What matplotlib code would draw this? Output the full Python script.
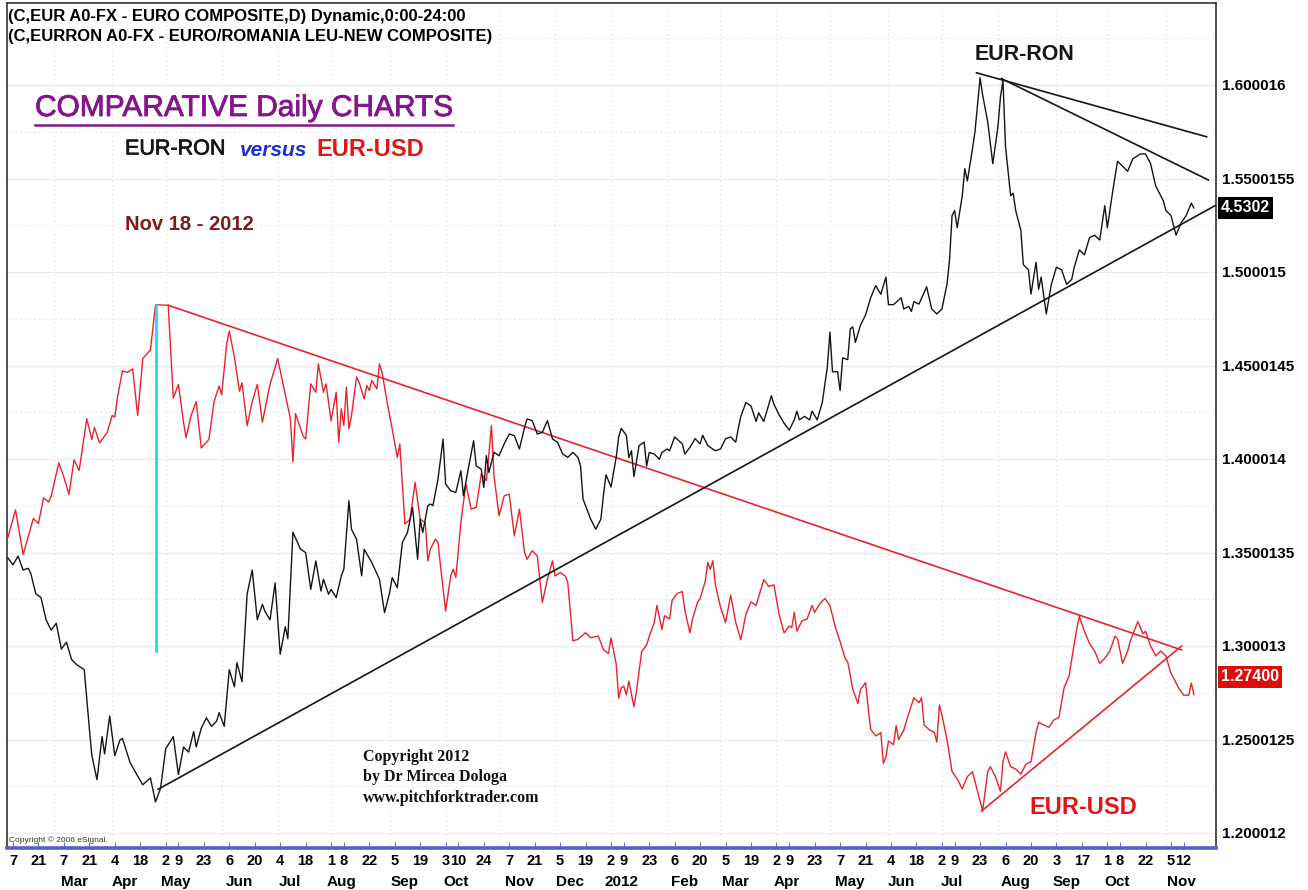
import matplotlib
matplotlib.use("Agg")
import matplotlib.pyplot as plt
import matplotlib.patheffects as pe
from matplotlib import font_manager
from matplotlib.lines import Line2D
from matplotlib.transforms import blended_transform_factory
import pandas as pd

# bars are trading days counted from the first bar on the chart
first_bar = "2011-02-03"

# EUR-USD closes (red)
usd_day = [0, 3, 6, 10, 12, 14, 16, 17, 20, 22,
           24, 26, 28, 31, 33, 34, 36, 39, 41, 42,
           43, 45, 47, 49, 51, 53, 56, 58, 63, 65,
           67, 69, 70, 72, 74, 76, 79, 81, 83, 84,
           86, 87, 89, 91, 92, 94, 96, 98, 100, 103,
           106, 109, 111, 112, 113, 116, 117, 119, 121, 122,
           124, 125, 127, 129, 130, 131, 132, 133, 134, 135,
           137, 138, 140, 141, 142, 143, 145, 146, 147, 149,
           151, 153, 154, 156, 158, 160, 162, 164, 165, 166,
           168, 169, 170, 172, 174, 175, 176, 178, 179, 180,
           182, 184, 186, 188, 189, 190, 191, 193, 195, 197,
           199, 201, 203, 204, 206, 208, 210, 212, 214, 215,
           217, 219, 220, 222, 224, 227, 229, 232, 234, 236,
           237, 239, 240, 241, 242, 243, 244, 246, 247, 249,
           251, 252, 254, 255, 257, 258, 260, 261, 263, 265,
           266, 268, 269, 271, 272, 274, 275, 276, 277, 278,
           280, 282, 284, 286, 288, 290, 292, 294, 297, 299,
           301, 303, 305, 307, 308, 309, 310, 312, 314, 316,
           317, 319, 321, 323, 325, 327, 329, 330, 332, 334,
           335, 337, 338, 339, 341, 343, 344, 345, 346, 348,
           349, 350, 352, 354, 356, 358, 359, 360, 362, 364,
           365, 366, 367, 369, 371, 373, 375, 377, 379, 381,
           383, 384, 385, 386, 388, 390, 391, 392, 394, 396,
           398, 400, 402, 404, 405, 407, 409, 411, 413, 415,
           417, 419, 420, 421, 423, 425, 427, 429, 431, 433,
           435, 436, 438, 440, 441, 444, 446, 447, 449, 451,
           453, 455, 457, 458, 460, 462, 464, 465, 466]
usd_close = [1.3581, 1.3728, 1.3489, 1.3682, 1.3655, 1.3792, 1.3770, 1.3800, 1.3980, 1.3903,
             1.3811, 1.3995, 1.3939, 1.4215, 1.4105, 1.4169, 1.4086, 1.4142, 1.4233, 1.4224,
             1.4325, 1.4472, 1.4463, 1.4482, 1.4233, 1.4537, 1.4583, 1.4825, 1.4822, 1.4325,
             1.4399, 1.4197, 1.4114, 1.4233, 1.4307, 1.4059, 1.4105, 1.4307, 1.4390, 1.4344,
             1.4619, 1.4684, 1.4546, 1.4362, 1.4408, 1.4178, 1.4307, 1.4399, 1.4197, 1.4399,
             1.4537, 1.4344, 1.4215, 1.3985, 1.4243, 1.4123, 1.4107, 1.4402, 1.4357, 1.4509,
             1.4357, 1.4402, 1.4205, 1.4357, 1.4089, 1.4268, 1.4179, 1.4384, 1.4161, 1.4232,
             1.4438, 1.4411, 1.4321, 1.4393, 1.4366, 1.4420, 1.4375, 1.4509, 1.4464, 1.4304,
             1.4161, 1.4009, 1.4080, 1.3652, 1.3678, 1.3875, 1.3678, 1.3660, 1.3455, 1.3518,
             1.3571, 1.3553, 1.3428, 1.3187, 1.3375, 1.3411, 1.3366, 1.3661, 1.3768, 1.3866,
             1.3732, 1.3741, 1.3920, 1.3884, 1.4027, 1.4179, 1.3911, 1.3696, 1.3803, 1.3812,
             1.3589, 1.3732, 1.3500, 1.3464, 1.3509, 1.3482, 1.3232, 1.3357, 1.3455, 1.3375,
             1.3393, 1.3375, 1.3339, 1.3027, 1.3036, 1.3071, 1.3044, 1.3053, 1.2980, 1.2960,
             1.3043, 1.2905, 1.2721, 1.2776, 1.2785, 1.2739, 1.2813, 1.2675, 1.2758, 1.2969,
             1.3006, 1.3052, 1.3125, 1.3217, 1.3088, 1.3162, 1.3144, 1.3245, 1.3281, 1.3291,
             1.3190, 1.3070, 1.3144, 1.3236, 1.3254, 1.3346, 1.3447, 1.3410, 1.3456, 1.3327,
             1.3208, 1.3125, 1.3272, 1.3125, 1.3033, 1.3171, 1.3236, 1.3217, 1.3355, 1.3318,
             1.3327, 1.3171, 1.3070, 1.3107, 1.3098, 1.3180, 1.3079, 1.3134, 1.3144, 1.3217,
             1.3180, 1.3226, 1.3254, 1.3217, 1.3107, 1.3024, 1.2932, 1.2914, 1.2767, 1.2693,
             1.2767, 1.2804, 1.2675, 1.2555, 1.2519, 1.2537, 1.2372, 1.2408, 1.2491, 1.2473,
             1.2574, 1.2500, 1.2550, 1.2640, 1.2723, 1.2697, 1.2723, 1.2578, 1.2552, 1.2539,
             1.2486, 1.2684, 1.2631, 1.2500, 1.2328, 1.2289, 1.2236, 1.2302, 1.2328, 1.2223,
             1.2118, 1.2223, 1.2328, 1.2355, 1.2302, 1.2223, 1.2381, 1.2434, 1.2355, 1.2342,
             1.2315, 1.2368, 1.2381, 1.2539, 1.2592, 1.2578, 1.2565, 1.2605, 1.2618, 1.2776,
             1.2842, 1.3013, 1.3092, 1.3158, 1.3079, 1.3013, 1.2973, 1.2907, 1.2934, 1.2973,
             1.3052, 1.3040, 1.2907, 1.2973, 1.3026, 1.3131, 1.3065, 1.3079, 1.3000, 1.2947,
             1.2973, 1.2947, 1.2855, 1.2829, 1.2776, 1.2737, 1.2737, 1.2802, 1.2740]

# EUR-RON closes (black), own scale
ron_day = [0, 2, 4, 6, 8, 9, 11, 13, 15, 17,
           19, 21, 23, 25, 27, 30, 32, 33, 35, 37,
           38, 40, 42, 44, 45, 48, 51, 53, 56, 58,
           60, 62, 65, 67, 69, 71, 73, 74, 76, 78,
           80, 82, 83, 85, 87, 89, 90, 92, 94, 96,
           98, 100, 101, 103, 105, 107, 109, 110, 112, 115,
           117, 119, 121, 123, 124, 126, 127, 129, 131, 132,
           134, 135, 137, 139, 140, 143, 146, 148, 150, 151,
           153, 155, 157, 159, 161, 162, 163, 165, 166, 167,
           169, 171, 172, 174, 176, 178, 179, 181, 183, 184,
           186, 187, 188, 189, 191, 193, 195, 197, 199, 201,
           203, 204, 206, 208, 210, 212, 214, 216, 218, 220,
           222, 224, 225, 226, 229, 231, 233, 234, 235, 237,
           239, 240, 241, 243, 244, 245, 246, 248, 249, 250,
           251, 252, 254, 256, 257, 259, 260, 262, 265, 266,
           268, 270, 272, 273, 275, 278, 280, 282, 284, 286,
           287, 288, 290, 292, 294, 295, 297, 300, 301, 303,
           305, 307, 309, 310, 311, 313, 315, 316, 318, 320,
           322, 323, 324, 326, 327, 328, 330, 331, 332, 333,
           335, 337, 339, 341, 343, 345, 346, 348, 351, 352,
           354, 355, 356, 358, 361, 363, 365, 367, 369, 370,
           371, 372, 373, 375, 376, 377, 379, 380, 382, 383,
           385, 387, 389, 390, 391, 392, 394, 395, 396, 398,
           399, 401, 402, 404, 405, 406, 408, 410, 412, 414,
           416, 418, 419, 421, 423, 425, 427, 429, 431, 432,
           434, 436, 438, 440, 442, 445, 447, 449, 451, 454,
           455, 457, 459, 461, 463, 465, 466]
ron_close = [4.2589, 4.2536, 4.2603, 4.2496, 4.2509, 4.2469, 4.2310, 4.2283, 4.2110, 4.2030,
             4.2083, 4.1883, 4.1937, 4.1803, 4.1763, 4.1723, 4.1270, 4.1057, 4.0870, 4.1204,
             4.1070, 4.1364, 4.1057, 4.1177, 4.1190, 4.1004, 4.0898, 4.0831, 4.0884, 4.0698,
             4.0804, 4.1110, 4.1204, 4.0910, 4.1124, 4.1084, 4.1244, 4.1124, 4.1270, 4.1350,
             4.1284, 4.1324, 4.1390, 4.1284, 4.1723, 4.1590, 4.1777, 4.1630, 4.2310, 4.2496,
             4.2110, 4.2230, 4.2176, 4.2110, 4.2395, 4.1843, 4.2056, 4.1963, 4.2789, 4.2657,
             4.2631, 4.2346, 4.2566, 4.2333, 4.2424, 4.2308, 4.2346, 4.2282, 4.2450, 4.2502,
             4.3033, 4.2812, 4.2735, 4.2450, 4.2657, 4.2553, 4.2424, 4.2165, 4.2321, 4.2437,
             4.2359, 4.2709, 4.2786, 4.2980, 4.2579, 4.2890, 4.2786, 4.2994, 4.3007, 4.2994,
             4.3200, 4.3511, 4.3162, 4.3110, 4.3097, 4.3265, 4.3071, 4.3291, 4.3498, 4.3304,
             4.3278, 4.3136, 4.3382, 4.3252, 4.3408, 4.3382, 4.3473, 4.3550, 4.3537, 4.3434,
             4.3602, 4.3667, 4.3654, 4.3550, 4.3563, 4.3654, 4.3511, 4.3485, 4.3395, 4.3369,
             4.3408, 4.3369, 4.3304, 4.3045, 4.2890, 4.2812, 4.2890, 4.3074, 4.3234, 4.3140,
             4.3367, 4.3527, 4.3594, 4.3540, 4.3367, 4.3420, 4.3220, 4.3460, 4.3474, 4.3487,
             4.3301, 4.3407, 4.3394, 4.3354, 4.3407, 4.3434, 4.3420, 4.3527, 4.3474, 4.3394,
             4.3447, 4.3514, 4.3474, 4.3540, 4.3460, 4.3420, 4.3434, 4.3514, 4.3527, 4.3487,
             4.3594, 4.3687, 4.3794, 4.3767, 4.3647, 4.3714, 4.3647, 4.3847, 4.3780, 4.3700,
             4.3634, 4.3580, 4.3660, 4.3727, 4.3660, 4.3687, 4.3660, 4.3727, 4.3660, 4.3794,
             4.4073, 4.4340, 4.4033, 4.4033, 4.3887, 4.4140, 4.4127, 4.4366, 4.4380, 4.4260,
             4.4393, 4.4473, 4.4606, 4.4700, 4.4633, 4.4766, 4.4553, 4.4553, 4.4606, 4.4519,
             4.4540, 4.4500, 4.4576, 4.4557, 4.4691, 4.4519, 4.4481, 4.4519, 4.4710, 4.4900,
             4.5244, 4.5282, 4.5149, 4.5397, 4.5606, 4.5511, 4.5759, 4.5893, 4.6312, 4.6179,
             4.5969, 4.5645, 4.5931, 4.6160, 4.6293, 4.5778, 4.5397, 4.5416, 4.5282, 4.5130,
             4.4863, 4.4824, 4.4634, 4.4882, 4.4672, 4.4767, 4.4481, 4.4710, 4.4843, 4.4824,
             4.4710, 4.4748, 4.4843, 4.4977, 4.4939, 4.5072, 4.5091, 4.5053, 4.5320, 4.5149,
             4.5416, 4.5664, 4.5626, 4.5587, 4.5683, 4.5721, 4.5721, 4.5645, 4.5473, 4.5358,
             4.5282, 4.5244, 4.5092, 4.5187, 4.5244, 4.5340, 4.5302]

# trend lines drawn on the chart: (days, values)
ron_support = ([59, 474.7], [4.0796, 4.5324])
ron_upper = ([380.6, 471.0], [4.6350, 4.5854])
ron_lower = ([390.4, 471.7], [4.6305, 4.5519])
usd_down = ([63, 461.2], [1.4822, 1.2979])
usd_up = ([382.6, 461.2], [1.2118, 1.3000])
cyan_mark = ([58, 58], [1.4825, 1.2975])

tick_dates = ["2011-02-07", "2011-02-21", "2011-03-07", "2011-03-21", "2011-04-04",
              "2011-04-18", "2011-05-02", "2011-05-09", "2011-05-23", "2011-06-06",
              "2011-06-20", "2011-07-04", "2011-07-18", "2011-08-01", "2011-08-08",
              "2011-08-22", "2011-09-05", "2011-09-19", "2011-10-03", "2011-10-10",
              "2011-10-24", "2011-11-07", "2011-11-21", "2011-12-05", "2011-12-19",
              "2012-01-02", "2012-01-09", "2012-01-23", "2012-02-06", "2012-02-20",
              "2012-03-05", "2012-03-19", "2012-04-02", "2012-04-09", "2012-04-23",
              "2012-05-07", "2012-05-21", "2012-06-04", "2012-06-18", "2012-07-02",
              "2012-07-09", "2012-07-23", "2012-08-06", "2012-08-20", "2012-09-03",
              "2012-09-17", "2012-10-01", "2012-10-08", "2012-10-22", "2012-11-05",
              "2012-11-12"]
y_ticks = [1.200012, 1.2500125, 1.300013, 1.3500135, 1.400014,
           1.4500145, 1.500015, 1.5500155, 1.600016]
y_labels = ["1.200012", "1.2500125", "1.300013", "1.3500135", "1.400014",
            "1.4500145", "1.500015", "1.5500155", "1.600016"]
usd_last_label = "1.27400"
ron_last_label = "4.5302"

RED = "#e8232b"
BLACK = "#151515"
PURPLE = "#84168c"

SANS = ["Liberation Sans", "DejaVu Sans"]
SERIF = ["Liberation Serif", "DejaVu Serif"]
try:
    font_manager.findfont("Liberation Sans Narrow", fallback_to_default=False)
    NARROW, narrow_size = ["Liberation Sans Narrow", "Liberation Sans"], 12.5
except ValueError:
    NARROW, narrow_size = SANS, 10.5
plt.rcParams["font.family"] = SANS

bdays = pd.bdate_range(first_bar, periods=480)
day_of = {d: i for i, d in enumerate(bdays)}
tick_ts = [pd.Timestamp(s) for s in tick_dates]
tick_days = [day_of[t] for t in tick_ts]

W, H = 1308, 890
fig = plt.figure(figsize=(W / 100, H / 100), dpi=100)


def fx(x):
    return x / W


def fy(y):
    return 1 - y / H


heavy = [pe.withStroke(linewidth=0.6, foreground=PURPLE)]

ax = fig.add_axes([fx(7), 42 / H, 1209 / W, 845 / H])
ax2 = ax.twinx()
ax.set_xlim(-0.35, 474.7)
ax.set_ylim(1.19198, 1.64385)
ax2.set_ylim(4.0341, 4.6891)

# grid
for k in range(18):
    v = 1.2 + 0.025 * k
    if k % 2 == 0:
        ax.axhline(v, color="#ebebeb", lw=0.9, zorder=0)
    else:
        ax.axhline(v, color="#dcdcdc", lw=0.8, ls=(0, (1, 3)), zorder=0)
month_starts = [i for i in range(1, 470) if bdays[i].month != bdays[i - 1].month]
for i in month_starts:
    ax.axvline(i, color="#dcdcdc", lw=0.8, ls=(0, (1, 3)), zorder=0)

# series
ax.plot(usd_day, usd_close, color=RED, lw=1.0, zorder=3)
ax2.plot(ron_day, ron_close, color=BLACK, lw=1.0, zorder=3)

# trend lines
ax.plot(*usd_down, color=RED, lw=1.2, zorder=4)
ax.plot(*usd_up, color=RED, lw=1.2, zorder=4)
ax.plot(*cyan_mark, color="#22d6e6", lw=1.9, zorder=4)
for line in (ron_support, ron_upper, ron_lower):
    ax2.plot(*line, color=BLACK, lw=1.2, zorder=4)

# axes frame
for side in ("left", "top", "right"):
    ax.spines[side].set_color("#222222")
    ax.spines[side].set_linewidth(1.1)
ax.spines["bottom"].set_color("#5a5ad2")
ax.spines["bottom"].set_linewidth(2.6)
for sp in ax2.spines.values():
    sp.set_visible(False)

# x axis: day numbers + month names
ax.set_xticks(tick_days)
ax.set_xticklabels([str(t.day) for t in tick_ts], family=NARROW,
                   fontweight="bold", fontsize=narrow_size)
ax.tick_params(axis="x", direction="in", length=4, width=0.8,
               color="#7070c0", pad=4)
mark = blended_transform_factory(ax.transData, ax.transAxes)
seen = set()
for t, d in zip(tick_ts, tick_days):
    key = (t.year, t.month)
    if key in seen:
        continue
    seen.add(key)
    if key == (2011, 2):
        continue
    name = "2012" if key == (2012, 1) else t.strftime("%b")
    ax.text(d + 4, -0.0402, name, transform=mark, ha="center", va="center",
            family=NARROW, fontweight="bold", fontsize=narrow_size + 0.5)

# right price scale
ax2.set_yticks([])
ax.yaxis.tick_right()
ax.set_yticks(y_ticks)
ax.set_yticklabels(y_labels, fontweight="bold", fontsize=11)
ax.tick_params(axis="y", length=0, pad=4, right=True, left=False,
               labelright=True, labelleft=False)

# last value boxes
ax2.text(1.004, ron_close[-1], ron_last_label, color="white", fontweight="bold",
         fontsize=11.5, va="center", ha="left",
         transform=blended_transform_factory(ax.transAxes, ax2.transData),
         bbox=dict(boxstyle="square,pad=0.2", fc="black", ec="none"), clip_on=False)
ax.text(1.004, 0.2024, usd_last_label, color="white", fontweight="bold",
        fontsize=11.5, va="center", ha="left", transform=ax.transAxes,
        bbox=dict(boxstyle="square,pad=0.2", fc="#e00b0b", ec="none"), clip_on=False)

# header
fig.text(fx(8), fy(16), "(C,EUR A0-FX - EURO COMPOSITE,D) Dynamic,0:00-24:00",
         fontsize=12, fontweight="bold", va="center")
fig.text(fx(8), fy(36), "(C,EURRON A0-FX - EURO/ROMANIA LEU-NEW COMPOSITE)",
         fontsize=12, fontweight="bold", va="center")

title = fig.text(fx(35), fy(108), "COMPARATIVE Daily CHARTS", fontsize=21.5,
                 color=PURPLE, va="center", path_effects=heavy)
fig.text(fx(125), fy(149), "EUR-RON", fontsize=15.5, color=BLACK, va="center",
         path_effects=[pe.withStroke(linewidth=0.5, foreground=BLACK)])
fig.text(fx(240), fy(150), "versus", fontsize=15, color="#1c2fd0",
         fontweight="bold", fontstyle="italic", va="center")
fig.text(fx(316), fy(149), "EUR-USD", fontsize=17, color="#e31414",
         fontweight="bold", va="center")
fig.text(fx(125), fy(224), "Nov 18 - 2012", fontsize=14.5, color="#7d1b1b",
         fontweight="bold", va="center")

fig.text(fx(1025), fy(55), "EUR-RON", fontsize=15.5, color=BLACK,
         fontweight="bold", ha="center", va="center")
fig.text(fx(1083), fy(808), "EUR-USD", fontsize=17, color="#e31414",
         fontweight="bold", ha="center", va="center")

for y, line in zip((757, 777, 798), ("Copyright 2012", "by Dr Mircea Dologa",
                                     "www.pitchforktrader.com")):
    fig.text(fx(363), fy(y), line, family=SERIF, fontsize=11.5,
             fontweight="bold", va="center", color="#111111")
fig.text(fx(9), fy(840), "Copyright \u00a9 2006 eSignal.", fontsize=6,
         color="#333333", va="center")

fig.canvas.draw()
bb = title.get_window_extent()
fig.add_artist(Line2D([bb.x0 / W, bb.x1 / W], [fy(125), fy(125)],
                      color=PURPLE, lw=1.8, transform=fig.transFigure))

fig.savefig("out.png", dpi=100)
